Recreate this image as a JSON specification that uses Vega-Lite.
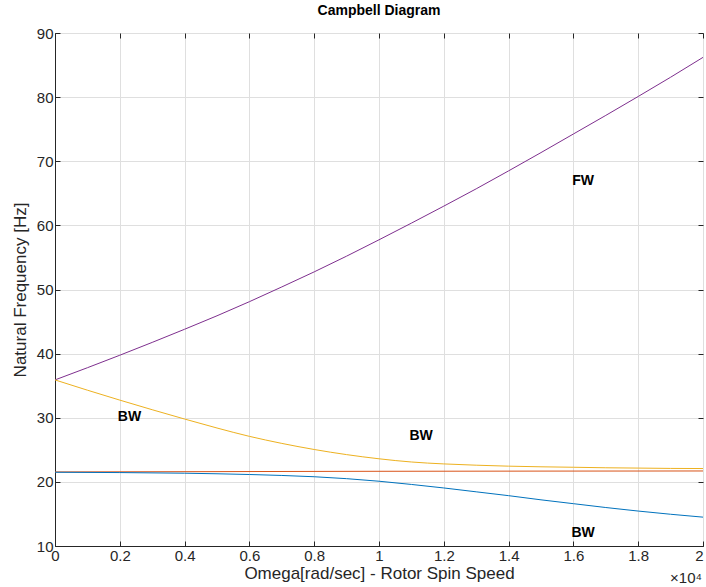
{
  "$schema": "https://vega.github.io/schema/vega-lite/v6.json",
  "width": 648,
  "height": 513,
  "autosize": {"type": "none"},
  "padding": {"left": 55, "top": 33, "right": 3, "bottom": 41},
  "background": "white",
  "title": {"text": "Campbell Diagram", "font": "Liberation Sans", "fontSize": 14, "fontWeight": "bold", "color": "#000000", "offset": 8, "anchor": "middle"},
  "config": {
    "view": {"stroke": "#262626", "strokeWidth": 1},
    "font": "Liberation Sans"
  },
  "datasets": {
    "curves": [
      {"mode": "FW", "omega": 0, "freq": 35.9},
      {"mode": "FW", "omega": 1000, "freq": 37.8},
      {"mode": "FW", "omega": 2000, "freq": 39.75},
      {"mode": "FW", "omega": 3000, "freq": 41.75},
      {"mode": "FW", "omega": 4000, "freq": 43.8},
      {"mode": "FW", "omega": 5000, "freq": 45.9},
      {"mode": "FW", "omega": 6000, "freq": 48.1},
      {"mode": "FW", "omega": 7000, "freq": 50.4},
      {"mode": "FW", "omega": 8000, "freq": 52.75},
      {"mode": "FW", "omega": 9000, "freq": 55.2},
      {"mode": "FW", "omega": 10000, "freq": 57.75},
      {"mode": "FW", "omega": 11000, "freq": 60.35},
      {"mode": "FW", "omega": 12000, "freq": 63.0},
      {"mode": "FW", "omega": 13000, "freq": 65.7},
      {"mode": "FW", "omega": 14000, "freq": 68.5},
      {"mode": "FW", "omega": 15000, "freq": 71.35},
      {"mode": "FW", "omega": 16000, "freq": 74.25},
      {"mode": "FW", "omega": 17000, "freq": 77.15},
      {"mode": "FW", "omega": 18000, "freq": 80.1},
      {"mode": "FW", "omega": 19000, "freq": 83.1},
      {"mode": "FW", "omega": 20000, "freq": 86.2},
      {"mode": "BW2", "omega": 0, "freq": 35.9},
      {"mode": "BW2", "omega": 1000, "freq": 34.3},
      {"mode": "BW2", "omega": 2000, "freq": 32.75},
      {"mode": "BW2", "omega": 3000, "freq": 31.25},
      {"mode": "BW2", "omega": 4000, "freq": 29.8},
      {"mode": "BW2", "omega": 5000, "freq": 28.4},
      {"mode": "BW2", "omega": 6000, "freq": 27.1},
      {"mode": "BW2", "omega": 7000, "freq": 26.0},
      {"mode": "BW2", "omega": 8000, "freq": 25.05},
      {"mode": "BW2", "omega": 9000, "freq": 24.25},
      {"mode": "BW2", "omega": 10000, "freq": 23.6},
      {"mode": "BW2", "omega": 11000, "freq": 23.1},
      {"mode": "BW2", "omega": 12000, "freq": 22.8},
      {"mode": "BW2", "omega": 13000, "freq": 22.6},
      {"mode": "BW2", "omega": 14000, "freq": 22.45},
      {"mode": "BW2", "omega": 15000, "freq": 22.35},
      {"mode": "BW2", "omega": 16000, "freq": 22.28},
      {"mode": "BW2", "omega": 17000, "freq": 22.2},
      {"mode": "BW2", "omega": 18000, "freq": 22.15},
      {"mode": "BW2", "omega": 19000, "freq": 22.1},
      {"mode": "BW2", "omega": 20000, "freq": 22.08},
      {"mode": "R", "omega": 0, "freq": 21.55},
      {"mode": "R", "omega": 5000, "freq": 21.6},
      {"mode": "R", "omega": 10000, "freq": 21.65},
      {"mode": "R", "omega": 15000, "freq": 21.68},
      {"mode": "R", "omega": 20000, "freq": 21.7},
      {"mode": "BW1", "omega": 0, "freq": 21.5},
      {"mode": "BW1", "omega": 2000, "freq": 21.45},
      {"mode": "BW1", "omega": 4000, "freq": 21.35},
      {"mode": "BW1", "omega": 6000, "freq": 21.15},
      {"mode": "BW1", "omega": 7000, "freq": 21.0},
      {"mode": "BW1", "omega": 8000, "freq": 20.8},
      {"mode": "BW1", "omega": 9000, "freq": 20.5},
      {"mode": "BW1", "omega": 10000, "freq": 20.1},
      {"mode": "BW1", "omega": 11000, "freq": 19.6},
      {"mode": "BW1", "omega": 12000, "freq": 19.05},
      {"mode": "BW1", "omega": 13000, "freq": 18.45},
      {"mode": "BW1", "omega": 14000, "freq": 17.85},
      {"mode": "BW1", "omega": 15000, "freq": 17.2},
      {"mode": "BW1", "omega": 16000, "freq": 16.6},
      {"mode": "BW1", "omega": 17000, "freq": 16.0},
      {"mode": "BW1", "omega": 18000, "freq": 15.45},
      {"mode": "BW1", "omega": 19000, "freq": 14.95},
      {"mode": "BW1", "omega": 20000, "freq": 14.5}
    ],
    "labels": [
      {"label": "FW", "omega": 16300, "freq": 66.9},
      {"label": "BW", "omega": 2300, "freq": 30.1},
      {"label": "BW", "omega": 11300, "freq": 27.2},
      {"label": "BW", "omega": 16300, "freq": 12.0}
    ],
    "exponent": [
      {"label": "×10⁴", "omega": 20000, "freq": 10}
    ]
  },
  "resolve": {"axis": {"x": "independent", "y": "independent"}},
  "layer": [
    {
      "data": {"name": "curves"},
      "mark": {"type": "line", "strokeWidth": 1, "interpolate": "monotone", "clip": true},
      "encoding": {
        "x": {
          "field": "omega", "type": "quantitative",
          "scale": {"domain": [0, 20000], "nice": false, "zero": false},
          "axis": {
            "values": [0, 2000, 4000, 6000, 8000, 10000, 12000, 14000, 16000, 18000, 20000],
            "labelExpr": "format(datum.value / 10000, '~g')",
            "title": "Omega[rad/sec] - Rotor Spin Speed",
            "titleFont": "Liberation Sans", "titleFontSize": 17, "titleFontWeight": "normal", "titleColor": "#262626",
            "titlePadding": 2,
            "labelFont": "Liberation Sans", "labelFontSize": 15, "labelColor": "#262626",
            "labelPadding": 7, "labelFlush": false,
            "labelAlign": {"condition": {"test": "datum.value === 20000", "value": "right"}, "value": "center"},
            "grid": true, "gridColor": "#dfdfdf", "gridWidth": 1,
            "domainColor": "#262626", "tickColor": "#262626", "tickSize": -5
          }
        },
        "y": {
          "field": "freq", "type": "quantitative",
          "scale": {"domain": [10, 90], "nice": false, "zero": false},
          "axis": {
            "values": [10, 20, 30, 40, 50, 60, 70, 80, 90],
            "title": "Natural Frequency [Hz]",
            "titleFont": "Liberation Sans", "titleFontSize": 17, "titleFontWeight": "normal", "titleColor": "#262626",
            "titlePadding": 7,
            "labelFont": "Liberation Sans", "labelFontSize": 15, "labelColor": "#262626",
            "labelPadding": 7, "labelFlush": false,
            "grid": true, "gridColor": "#dfdfdf", "gridWidth": 1,
            "domainColor": "#262626", "tickColor": "#262626", "tickSize": -5
          }
        },
        "detail": {"field": "mode"},
        "color": {
          "field": "mode", "type": "nominal",
          "scale": {"domain": ["BW1", "R", "BW2", "FW"], "range": ["#0072BD", "#D95319", "#EDB120", "#7E2F8E"]},
          "legend": null
        }
      }
    },
    {
      "data": {"name": "labels"},
      "mark": {"type": "text", "font": "Liberation Sans", "fontSize": 14, "fontWeight": "bold", "color": "#000000", "align": "center", "baseline": "middle"},
      "encoding": {
        "x": {
          "field": "omega", "type": "quantitative",
          "axis": {"orient": "top", "values": [0, 2000, 4000, 6000, 8000, 10000, 12000, 14000, 16000, 18000, 20000], "labels": false, "title": null, "grid": false, "domain": false, "tickColor": "#262626", "tickSize": -5}
        },
        "y": {
          "field": "freq", "type": "quantitative",
          "axis": {"orient": "right", "values": [10, 20, 30, 40, 50, 60, 70, 80, 90], "labels": false, "title": null, "grid": false, "domain": false, "tickColor": "#262626", "tickSize": -5}
        },
        "text": {"field": "label"}
      }
    },
    {
      "data": {"name": "exponent"},
      "mark": {"type": "text", "font": "Liberation Sans", "fontSize": 15, "color": "#262626", "align": "right", "baseline": "bottom", "dy": 40, "dx": -1},
      "encoding": {
        "x": {"field": "omega", "type": "quantitative", "axis": null},
        "y": {"field": "freq", "type": "quantitative", "axis": null},
        "text": {"field": "label"}
      }
    }
  ]
}
